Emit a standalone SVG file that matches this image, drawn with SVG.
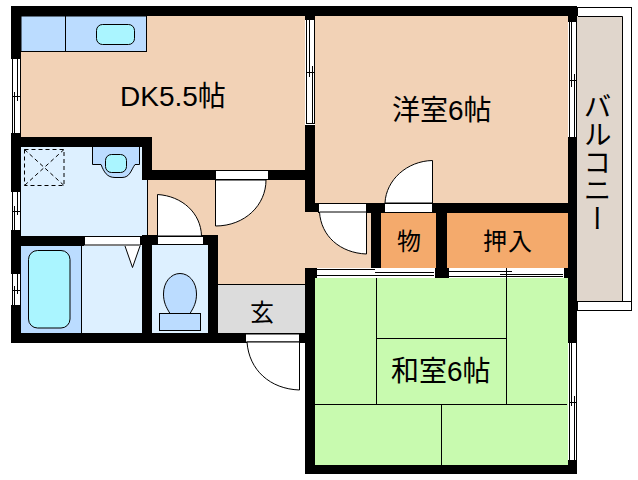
<svg xmlns="http://www.w3.org/2000/svg" width="638" height="480" viewBox="0 0 638 480">
<style>
.w{fill:#000}
.o{fill:#fff;stroke:#000;stroke-width:1}
.p{fill:#fff}
.l{fill:none;stroke:#000;stroke-width:1}
.c{fill:#bbdcff;stroke:#000;stroke-width:1}
.s{fill:#aaf5ff;stroke:#000;stroke-width:1}
.d{fill:none;stroke:#000;stroke-width:1;stroke-dasharray:4 3}
text{font-family:"Liberation Sans","Noto Sans CJK JP",sans-serif;fill:#000}
.t{font-size:28px}
</style>
<rect width="638" height="480" fill="#fff"/>
<g id="balcony">
<rect x="577.500" y="7.500" width="54" height="303" fill="#fff" stroke="#000"/>
<rect x="577" y="16" width="45.500" height="285" fill="#e0d6cc"/>
<path class="l" d="M578 16.500H622.500V301M577 301.500H632"/>
<text class="t" x="595" y="92" style="writing-mode:vertical-rl">バルコニー</text>
</g>
<g id="dk">
<path fill="#f2d2b6" d="M21 16H305V170H152V137H21Z"/>
<rect class="c" x="21" y="16" width="125.500" height="35.500"/>
<path class="l" d="M65.500 16V51"/>
<rect class="s" x="96.500" y="24.500" width="38" height="20" rx="6"/>
<text class="t" x="120" y="106">DK5.5帖</text>
</g>
<g id="hall">
<path fill="#f2d2b6" d="M147 180H305V212H371V268H305V284H218V236H147Z"/>
<path class="l" d="M147.500 180V236"/>
</g>
<g id="genkan">
<rect x="218" y="284" width="87" height="49" fill="#dcdcdc"/>
<path class="l" d="M218 284.500H305"/>
<text x="250" y="321" font-size="24">玄</text>
</g>
<g id="wash">
<rect x="21" y="147" width="126" height="89" fill="#ddf0ff"/>
<path class="c" d="M92.500 147V164.500H101C104 172 107 177.500 115 177.500H122C130 177.500 131 170 135 164.500H139.500V147"/>
<rect class="s" x="105.500" y="154.500" width="21" height="18" rx="6"/>
<rect class="d" x="24.500" y="149.500" width="39.500" height="36"/>
<path class="d" d="M24.500 149.500L64 185.500M64 149.500L24.500 185.500"/>
</g>
<g id="bath">
<rect x="21" y="246" width="121" height="87" fill="#ddf0ff"/>
<rect x="21" y="246" width="60.500" height="87" fill="#bbdcff"/>
<path class="l" d="M81.500 246V333"/>
<rect class="s" x="28.500" y="250.500" width="41.500" height="77.500" rx="9"/>
<path class="o" d="M125 246L132.500 267.500L140 246"/>
</g>
<g id="toilet">
<rect x="152" y="245" width="56" height="88" fill="#ddf0ff"/>
<path class="c" d="M170 313.500C166 307 163.500 302 163.500 294C163.500 282 171 273.500 180 273.500C189 273.500 196.500 282 196.500 294C196.500 302 194 307 190 313.500Z"/>
<rect class="c" x="159.500" y="313.500" width="41" height="17"/>
</g>
<g id="western-room">
<rect x="315" y="16" width="253" height="187" fill="#f2d2b6"/>
<text class="t" x="392" y="120">洋室6帖</text>
</g>
<g id="closet-small">
<rect x="381" y="213" width="55" height="55" fill="#f4aa6c"/>
<text x="397" y="250" font-size="24">物</text>
</g>
<g id="closet">
<rect x="447" y="213" width="121" height="55" fill="#f4aa6c"/>
<text x="483" y="250" font-size="24" letter-spacing="1">押入</text>
</g>
<g id="japanese-room">
<rect x="315" y="278" width="253" height="187" fill="#c8faaf"/>
<path class="l" d="M376.500 278V404M506.500 278V404M376 338.500H506M315 404.500H567M441.500 404V465"/>
<text class="t" x="391" y="381">和室6帖</text>
</g>
<g id="walls">
<path class="w" d="M11 6H577V474H305V268H315V465H568V213H447V268H436V213H381V268H371V213H367V203H568V16H315V212H305V180H152V170H305V16H21V137H152V180H142V147H21V236H142V235H218V343H11ZM21 246V333H142V245H84V246ZM152 245V333H208V245ZM218 333H305V343H218Z"/>
<rect class="w" x="305" y="203" width="13" height="9"/>
<rect class="w" x="305" y="268" width="272" height="10"/>
</g>
<g id="openings">
<g id="windows">
<rect class="p" x="11" y="59" width="10" height="75"/>
<path class="l" d="M12.500 59V134M20.500 59V134M11 133.500H21M17.500 59V101M14.500 92V134M12 96.500H20"/>
<rect class="p" x="11" y="192" width="10" height="39"/>
<path class="l" d="M12.500 192V231M20.500 192V231M11 230.500H21M17.500 192V215M14.500 206V231M12 211.500H20"/>
<rect class="p" x="11" y="274" width="10" height="32"/>
<path class="l" d="M12.500 274V306M20.500 274V306M11 305.500H21M17.500 274V294M14.500 286V306M12 290.500H20"/>
<rect class="p" x="305" y="20" width="10" height="105"/>
<path class="l" d="M306.500 20V124M314.500 20V124M306 123.500H315M309.500 20V77M312.500 66V124M307 72.500H314"/>
<rect class="p" x="568" y="22" width="9" height="116"/>
<path class="l" d="M569.500 22V137M576.500 22V137M568 137.500H577M571.500 22V87M574.500 74V137M569 80.500H576"/>
<rect class="p" x="568" y="343" width="9" height="118"/>
<path class="l" d="M569.500 343V460M576.500 343V460M568 460.500H577M571.500 343V406M574.500 396V460M569 402.500H576"/>
<rect class="p" x="317" y="268" width="118" height="10"/>
<path class="l" d="M317 269.500H375M317 275.500H434M375 272.500H434" stroke-dasharray="none"/>
<rect class="p" x="449" y="268" width="115" height="10"/>
<path class="l" d="M449 271.500H512M500 274.500H563M506.500 268V278M449 276.500H563"/>
</g>
<g id="doors">
<rect class="o" x="215.500" y="170.500" width="53" height="9"/>
<path class="o" d="M215.500 180V226C245 226 266 205 266 180Z"/>
<rect class="o" x="157.500" y="236.500" width="46" height="8"/>
<path class="o" d="M157.500 236V194.500C182 196 201 213 201.500 236Z"/>
<rect class="o" x="384.500" y="203.500" width="48" height="9"/>
<path class="o" d="M432.500 203V160.500C407 161 386 180 385 203Z"/>
<rect class="o" x="318.500" y="203.500" width="48" height="9"/>
<path class="o" d="M366.500 212V254C340 253 321 236 319.500 212Z"/>
<rect class="o" x="245.500" y="334" width="54" height="8"/>
<path class="o" d="M299.500 342V390C270 389 249 370 247 342Z"/>
<rect class="o" x="84.500" y="236.500" width="56" height="8.500"/>
</g>
</g>
</svg>
